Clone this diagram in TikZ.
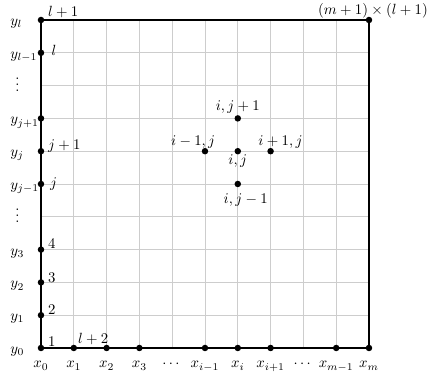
\documentclass[tikz,border=0pt]{standalone}
\usepackage{amsmath}
\usepackage{tikz}
\definecolor{gridgray}{RGB}{205,205,205}
\tikzset{
  dot/.style={circle, fill=black, inner sep=0pt, minimum size=4.4pt},
  ptlab/.style={anchor=base west, inner sep=0pt, xshift=4.7pt},
  axlab/.style={anchor=base, inner sep=0pt},
  ylab/.style={anchor=base west, inner sep=0pt},
  gridline/.style={color=gridgray, line width=0.6pt},
  border/.style={line width=0.9pt, color=black}
}
\begin{document}
\begin{tikzpicture}[x=0.78cm, y=0.78cm]
    \useasboundingbox (-1.25,-1.006) rectangle (11.83,10.61);
    % Grid
    \foreach \k in {1,...,9} {
      \draw[gridline] (\k,0) -- (\k,10);
      \draw[gridline] (0,\k) -- (10,\k);
    }
    \draw[border] (0,0) rectangle (10,10);
    % Boundary points
    \foreach \k in {0,1,2,3,5,6,7,9,10}
      \node[dot] (l\k) at (0,\k) {};
    \foreach \k in {1,2,3,5,6,7,9,10}
      \node[dot] (b\k) at (\k,0) {};
    \node[dot] (tr) at (10,10) {};
    % Stencil
    \node[dot] (c) at (6,6) {};
    \node[dot] (n) at (6,7) {};
    \node[dot] (s) at (6,5) {};
    \node[dot] (w) at (5,6) {};
    \node[dot] (e) at (7,6) {};
    % Axis labels
    \foreach \k/\t in {0/y_0, 1/y_1, 2/y_2, 3/y_3, 5/y_{j-1}, 6/y_j, 7/y_{j+1}, 9/y_{l-1}, 10/y_l}
      \node[ylab] (ylab\k) at (-0.945,\k-0.17) {$\t$};
    \foreach \k in {4,8}
      \node[ylab, xshift=3.4pt, text height=8pt] (ylab\k) at (-0.945,\k-0.17) {$\vdots$};
    \foreach \k/\t in {0/x_0, 1/x_1, 2/x_2, 3/x_3, 4/\cdots, 5/x_{i-1}, 6/x_i, 7/x_{i+1}, 8/\cdots, 9/x_{m-1}, 10/x_m}
      \node[axlab] (xlab\k) at (\k,-0.61) {$\t$};
    % Numbering
    \node[ptlab, yshift=0.7pt] (n1) at (l0) {$1$};
    \node[ptlab, yshift=0.7pt] (n2) at (l1) {$2$};
    \node[ptlab, yshift=0pt] (n3) at (l2) {$3$};
    \node[ptlab, yshift=0.7pt] (n4) at (l3) {$4$};
    \node[ptlab, yshift=-2.7pt, xshift=1.3pt] (nj) at (l5) {$j$};
    \node[ptlab, yshift=1.3pt] (nj1) at (l6) {$j+1$};
    \node[ptlab, yshift=-2pt, xshift=2.3pt] (nl) at (l9) {$l$};
    \node[ptlab, yshift=2.7pt] (nl1) at (l10) {$l+1$};
    \node[ptlab, xshift=-2pt, yshift=3.3pt] (nl2) at (b1) {$l+2$};
    \node[axlab, xshift=2.7pt, yshift=4pt] (ntr) at (tr) {$(m+1)\times(l+1)$};
    \node[axlab, yshift=5.3pt] (ln) at (n) {$i,j+1$};
    \node[axlab, xshift=-8pt, yshift=4pt] (lw) at (w) {$i-1,j$};
    \node[axlab, xshift=6.7pt, yshift=4pt] (le) at (e) {$i+1,j$};
    \node[axlab, yshift=-9.2pt] (lc) at (c) {$i,j$};
    \node[axlab, xshift=5.4pt, yshift=-13pt] (ls) at (s) {$i,j-1$};
  \end{tikzpicture}
\end{document}
